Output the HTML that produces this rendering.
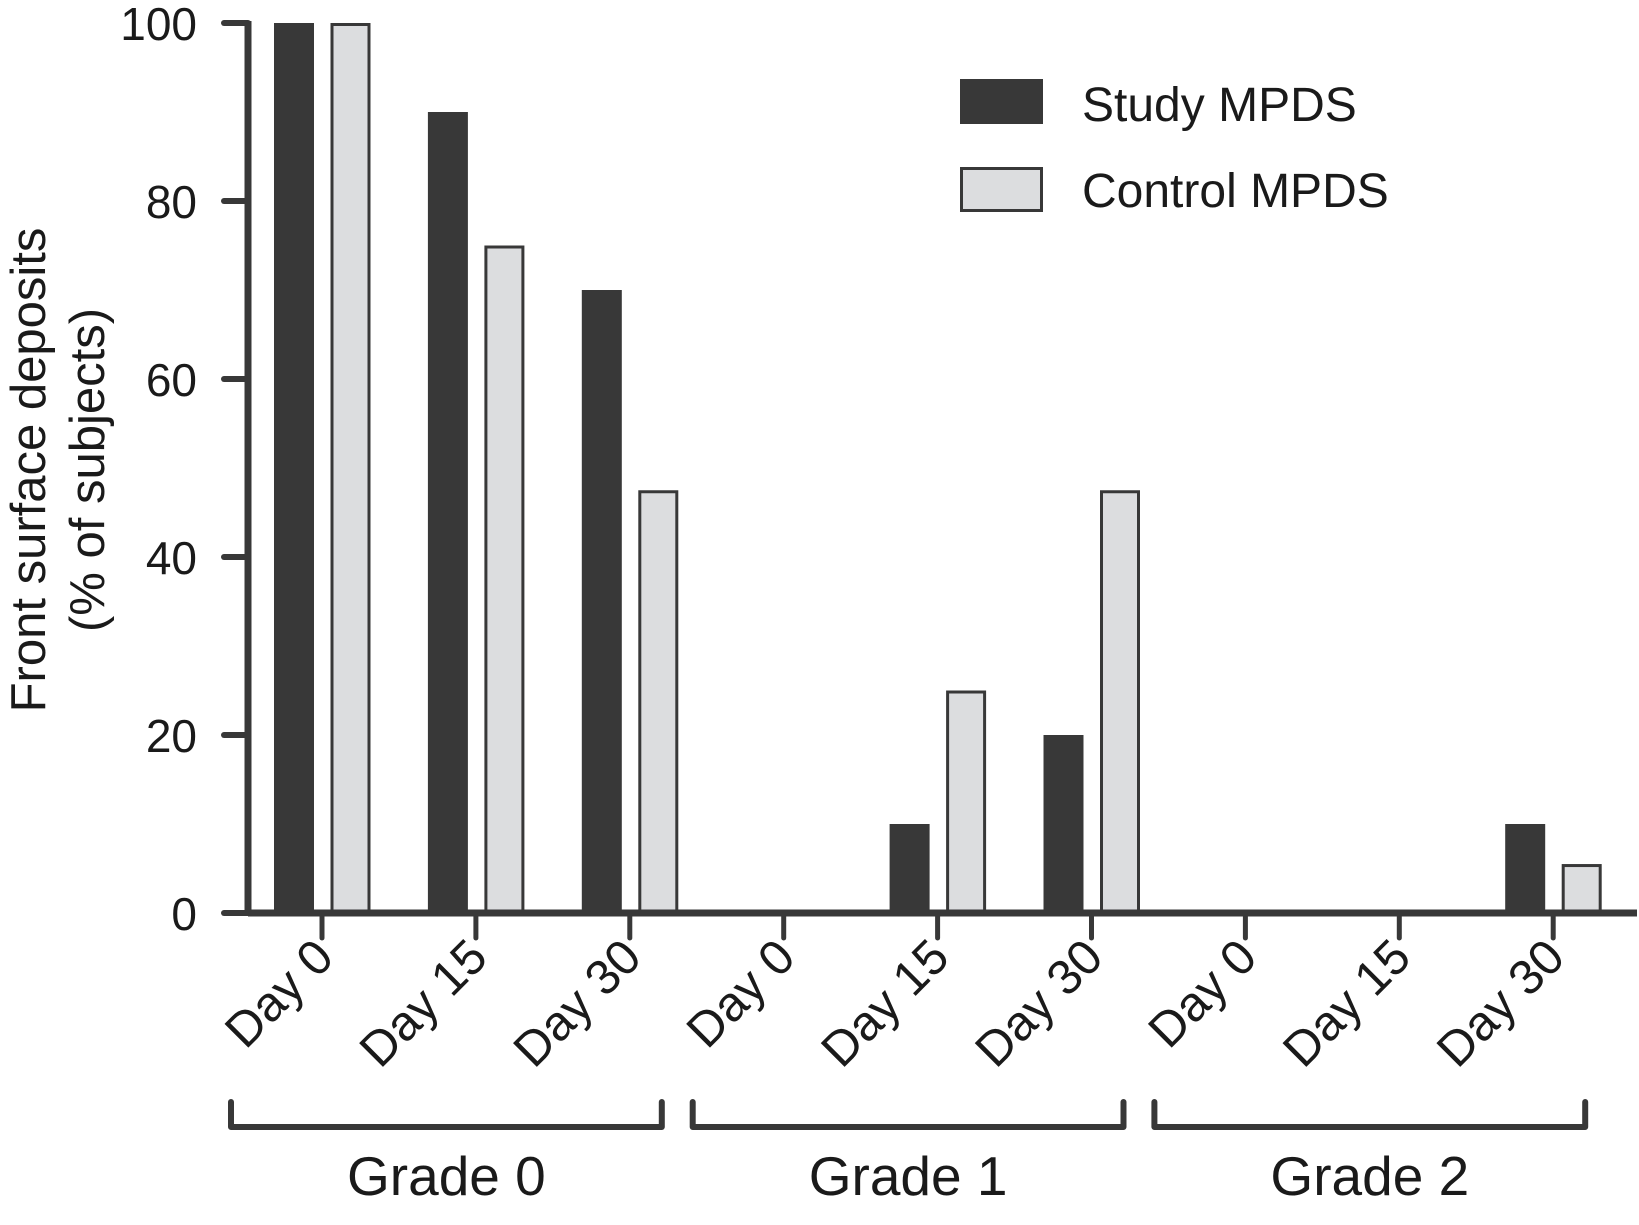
<!DOCTYPE html>
<html><head><meta charset="utf-8"><style>
body{margin:0;background:#fff}
svg text{font-family:"Liberation Sans",Arial,sans-serif;fill:#1a1a1a}
</style></head><body>
<svg id="chart" width="1639" height="1220" viewBox="0 0 1639 1220">
<g id="g"></g>
</svg>
<script>
const categories=["Day 0","Day 15","Day 30","Day 0","Day 15","Day 30","Day 0","Day 15","Day 30"];
const studyValues=[100,90,70,0,10,20,0,0,10];
const controlValues=[100,75,47.5,0,25,47.5,0,0,5.5];
const groups=["Grade 0","Grade 1","Grade 2"];
const yTicks=[0,20,40,60,80,100];
const NS="http://www.w3.org/2000/svg";
const g=document.getElementById('g');
const y0=913,y100=23,xAxis=248,firstTick=322,step=153.9;
const y=v=>y0-(y0-y100)*v/100;
const x=i=>firstTick+i*step;
const dark="#383838",light="#dcdddf";
function mk(t,a,parent){const e=document.createElementNS(NS,t);for(const k in a)e.setAttribute(k,a[k]);(parent||g).appendChild(e);return e;}
categories.forEach((c,i)=>{
  if(studyValues[i]>0){const r=mk('rect',{x:x(i)-48,y:y(studyValues[i]),width:40,height:y0-y(studyValues[i]),fill:dark});
  
  }
  if(controlValues[i]>0){const r=mk('rect',{x:x(i)+10,y:y(controlValues[i])+1.5,width:37,height:y0-y(controlValues[i])-1.5,fill:light,stroke:dark,'stroke-width':3});
  
  }
});
const ya=mk('line',{x1:xAxis,y1:y100-2,x2:xAxis,y2:y0+3,stroke:dark,'stroke-width':7});


yTicks.forEach(v=>{
  const l=mk('line',{x1:224,y1:y(v),x2:xAxis,y2:y(v),stroke:dark,'stroke-width':6,'stroke-linecap':'round'});
  
  
  const t=mk('text',{x:197,y:y(v)+17,'font-size':46,'text-anchor':'end'});t.textContent=v;
  
  
});
const xa=mk('line',{x1:xAxis,y1:y0,x2:1637,y2:y0,stroke:dark,'stroke-width':7});


categories.forEach((c,i)=>{
  const l=mk('line',{x1:x(i),y1:y0,x2:x(i),y2:938,stroke:dark,'stroke-width':5,'stroke-linecap':'round'});
  
  
  const t=mk('text',{x:0,y:0,'font-size':49,'text-anchor':'end',transform:`translate(${x(i)+14},${960}) rotate(-45)`});t.textContent=c;
  
  
});
groups.forEach((gr,k)=>{
  const a=x(k*3)-91,b=x(k*3+2)+32;
  const p=mk('path',{d:`M${a},1102 V1127 H${b} V1102`,fill:'none',stroke:dark,'stroke-width':6,'stroke-linejoin':'round','stroke-linecap':'round'});
  
  
  const t=mk('text',{x:(a+b)/2,y:1195,'font-size':55,'text-anchor':'middle'});t.textContent=gr;
  
  
});
const yt=mk('text',{'font-size':49,'text-anchor':'middle',transform:'translate(45,470) rotate(-90)'});yt.textContent='Front surface deposits';


const yt2=mk('text',{'font-size':49,'text-anchor':'middle',transform:'translate(104,470) rotate(-90)'});yt2.textContent='(% of subjects)';


const lb1=mk('rect',{x:960,y:79,width:83,height:45,fill:dark});


const lt1=mk('text',{x:1082,y:121,'font-size':48});lt1.textContent='Study MPDS';


const lb2=mk('rect',{x:961.5,y:168.5,width:80,height:42,fill:light,stroke:dark,'stroke-width':3});


const lt2=mk('text',{x:1082,y:207,'font-size':48});lt2.textContent='Control MPDS';


</script>
</body></html>
